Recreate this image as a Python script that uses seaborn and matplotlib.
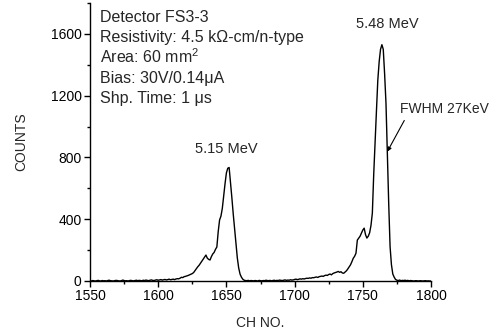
import numpy as np
import pandas as pd
import seaborn as sns
import matplotlib.pyplot as plt
from matplotlib.ticker import MultipleLocator

channels = list(range(1550, 1801))
counts = [
    2, 0, 3, 1, 0, 2, 4, 1, 0, 3,
    1, 2, 0, 3, 5, 2, 1, 0, 2, 4,
    3, 1, 0, 2, 6, 3, 1, 2, 0, 3,
    4, 2, 1, 3, 5, 2, 4, 3, 1, 5,
    3, 6, 4, 2, 5, 7, 4, 3, 6, 8,
    5, 7, 9, 6, 8, 10, 7, 9, 12, 8,
    10, 12, 9, 13, 15, 14, 18, 24, 22, 28,
    30, 33, 36, 40, 44, 48, 55, 68, 80, 92,
    102, 115, 128, 140, 155, 168, 148, 140, 136, 158,
    175, 185, 205, 220, 320, 395, 420, 470, 550, 630,
    700, 730, 735, 640, 540, 435, 340, 240, 150, 85,
    45, 25, 12, 5, 3, 2, 4, 1, 3, 2,
    1, 3, 2, 0, 4, 2, 1, 3, 2, 5,
    3, 2, 4, 1, 3, 5, 2, 4, 3, 6,
    4, 3, 5, 7, 4, 6, 5, 8, 6, 7,
    10, 12, 9, 11, 14, 12, 15, 13, 16, 18,
    17, 20, 18, 22, 21, 24, 26, 23, 28, 30,
    32, 30, 35, 38, 36, 42, 45, 40, 48, 52,
    55, 58, 62, 56, 60, 52, 50, 58, 66, 78,
    92, 105, 125, 147, 160, 180, 265, 278, 290, 310,
    330, 342, 300, 278, 290, 312, 360, 440, 690, 900,
    1100, 1300, 1420, 1500, 1530, 1500, 1340, 1150, 830, 500,
    222, 105, 45, 25, 10, 5, 3, 6, 2, 4,
    3, 5, 2, 4, 1, 3, 2, 0, 1, 2,
    1, 0, 2, 1, 0, 1, 2, 0, 1, 0,
    0,
]

info_lines = [
    "Detector FS3-3",
    "Resistivity: 4.5 k\u03a9-cm/n-type",
    "Area: 60 mm$^2$",
    "Bias: 30V/0.14\u03bcA",
    "Shp. Time: 1 \u03bcs",
]
peak_labels = ["5.15 MeV", "5.48 MeV"]

df = pd.DataFrame({"ch": channels, "counts": counts})

sns.set_style("ticks")
plt.rcParams['font.family'] = ['Liberation Sans', 'DejaVu Sans']
plt.rcParams['mathtext.fontset'] = 'custom'
plt.rcParams['mathtext.rm'] = 'Liberation Sans'

fig = plt.figure(figsize=(4.92, 3.35), dpi=100)
ax = fig.add_axes([90 / 492, 1 - 281 / 335, 341 / 492, 278 / 335])

sns.lineplot(data=df, x="ch", y="counts", ax=ax, color="black", linewidth=1.0)

ax.set_xlim(1550, 1800)
ax.set_ylim(0, 1800)
ax.xaxis.set_major_locator(MultipleLocator(50))
ax.xaxis.set_minor_locator(MultipleLocator(25))
ax.yaxis.set_major_locator(MultipleLocator(400))
ax.yaxis.set_minor_locator(MultipleLocator(200))
ax.tick_params(which="major", direction="out", length=4, width=1, labelsize=10,
               colors="black", pad=2)
ax.tick_params(which="minor", direction="out", length=2.5, width=1, colors="black")
for s in ["left", "bottom"]:
    ax.spines[s].set_linewidth(1)
    ax.spines[s].set_color("black")
sns.despine(ax=ax)

ax.set_xlabel("CH NO.", fontsize=10, labelpad=9)
ax.set_ylabel("COUNTS", fontsize=10, labelpad=16)

# lineas del bloque de info (base de cada linea en fraccion de ejes)
ys = [0.933, 0.861, 0.783, 0.711, 0.639]
for txt, y in zip(info_lines, ys):
    ax.text(0.029, y, txt, transform=ax.transAxes, fontsize=11.5, va="baseline", ha="left")

ax.text(1650, 829, peak_labels[0], fontsize=10.5, ha="center", va="baseline")
ax.text(1768, 1639, peak_labels[1], fontsize=10.5, ha="center", va="baseline")
ax.annotate("FWHM 27KeV", xy=(1768, 838), xytext=(1777, 1088), fontsize=10,
            ha="left", va="baseline", annotation_clip=False,
            arrowprops=dict(arrowstyle="-|>", color="black", lw=0.8,
                            shrinkA=1, shrinkB=0, mutation_scale=6,
                            relpos=(0.08, 0.0)))

fig.savefig("out.png", dpi=100)
